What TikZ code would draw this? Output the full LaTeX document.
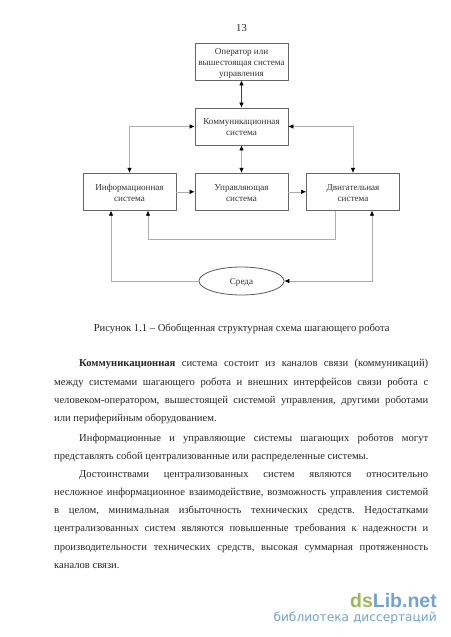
\documentclass[tikz,border=0pt]{standalone}
\usepackage{fontspec}
\setmainfont{Liberation Serif}
\newfontfamily\wmfont{DejaVu Sans}
\newfontfamily\wmbold{Liberation Sans}
\usetikzlibrary{arrows.meta,shapes.geometric}
\definecolor{wmblue}{HTML}{74A3CB}
\definecolor{wmgreen}{HTML}{A3B65A}
\newcommand{\fbody}{\fontsize{10.6}{12}\selectfont\frenchspacing}
\newcommand{\bt}[1]{\raisebox{-1.5pt}[\dimexpr\height+1.5pt][\dimexpr\depth+1.5pt]{\begin{tabular}{@{}c@{}}#1\end{tabular}}}
\tikzset{
  x=1pt,y=-1pt,
  sysbox/.style={draw=black!60,line width=0.8pt,fill=white,minimum width=93pt,minimum height=37pt,inner sep=0pt,align=center,font=\fontsize{9.1}{11}\selectfont,text=black!80},
  envnode/.style={ellipse,draw=black!65,line width=0.8pt,fill=white,minimum width=85pt,minimum height=28pt,inner sep=0pt,font=\fontsize{9.1}{11}\selectfont,text=black!80},
  link/.style={draw=black!32,line width=0.55pt,-{Latex[length=5pt,width=4.5pt,black]}},
  dlink/.style={draw=black!32,line width=0.55pt,{Latex[length=5pt,width=4.5pt,black]}-{Latex[length=5pt,width=4.5pt,black]}},
  strong/.style={draw=black!75,line width=0.7pt},
  txt/.style={anchor=base west,inner sep=0pt,font=\fbody,text=black!85},
  ctr/.style={anchor=base,inner sep=0pt,font=\fbody,text=black!85},
}
\newcommand{\jline}[5]{\node[txt] (#1) at (#2,#3) {\makebox[#4pt][s]{#5}};}
\begin{document}
\begin{tikzpicture}
\useasboundingbox[fill=white] (0,0) rectangle (450,637);
\node[ctr] (pagenum) at (241.5,31) {13};
\node[sysbox] (oper) at (241.5,61.5) {\bt{Оператор или\\вышестоящая система\\управления}};
\node[sysbox] (comm) at (241.5,126.5) {\bt{Коммуникационная\\система}};
\node[sysbox] (info) at (129.5,191.8) {\bt{Информационная\\система}};
\node[sysbox] (ctrl) at (241.5,191.8) {\bt{Управляющая\\система}};
\node[sysbox] (moto) at (353,191.8) {\bt{Двигательная\\система}};
\node[envnode] (env) at (241.5,281) {\bt{Среда}};
\coordinate (fbA) at (335,239);
\coordinate (fbB) at (148,239);
\coordinate (enL) at (111,281);
\coordinate (enR) at (372,281);
\draw[dlink,strong] (oper) -- (comm);
\draw[dlink] (comm) -- (ctrl);
\draw[dlink] (comm.west) -| (info.north);
\draw[dlink] (comm.east) -| (moto.north);
\draw[link] (info.east) -- (ctrl.west);
\draw[link] (ctrl.east) -- (moto.west);
\draw[link] (moto.south -| fbA) -- (fbA) -- (fbB) -- (info.south -| fbB);
\draw[link] (env.west) -- (enL) -- (info.south -| enL);
\draw[dlink] (env.east) -- (enR) -- (moto.south -| enR);
\node[ctr] (caption) at (241.7,331) {Рисунок 1.1 – Обобщенная структурная схема шагающего робота};
\jline{l1}{79}{366.5}{349}{\textbf{Коммуникационная} система состоит из каналов связи (коммуникаций)}
\jline{l2}{54}{385}{374}{между системами шагающего робота и внешних интерфейсов связи робота с}
\jline{l3}{54}{403}{374}{человеком-оператором, вышестоящей системой управления, другими роботами}
\node[txt] (l4) at (54,421.5) {или периферийным оборудованием.};
\jline{l5}{79}{441.5}{349}{Информационные и управляющие системы шагающих роботов могут}
\node[txt] (l6) at (54,459.5) {представлять собой централизованные или распределенные системы.};
\jline{l7}{79}{477}{349}{Достоинствами централизованных систем являются относительно}
\jline{l8}{54}{495}{374}{несложное информационное взаимодействие, возможность управления системой}
\jline{l9}{54}{513}{374}{в целом, минимальная избыточность технических средств. Недостатками}
\jline{l10}{54}{531}{374}{централизованных систем являются повышенные требования к надежности и}
\jline{l11}{54}{550}{374}{производительности технических средств, высокая суммарная протяженность}
\node[txt] (l12) at (54,568) {каналов связи.};
\node[anchor=base east,inner sep=0pt,font=\wmbold\bfseries\fontsize{19.5}{21}\selectfont] (wm1) at (437,607) {\textcolor{wmgreen}{ds}\textcolor{wmblue}{Lib.net}};
\node[anchor=base east,inner sep=0pt,font=\wmfont\fontsize{12.2}{13}\selectfont,text=wmblue] (wm2) at (437,621) {библиотека диссертаций};
\end{tikzpicture}
\end{document}
